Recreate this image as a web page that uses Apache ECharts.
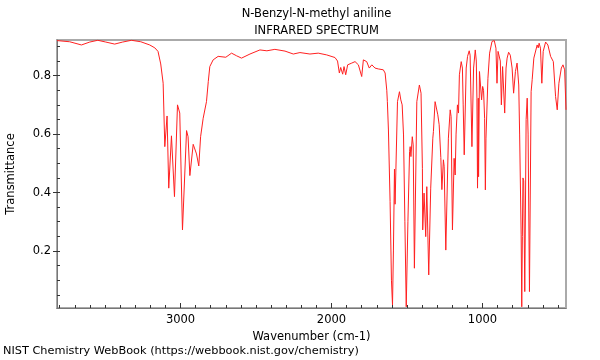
<!DOCTYPE html>
<html>
<head>
<meta charset="utf-8">
<script src="https://cdn.jsdelivr.net/npm/echarts@6/dist/echarts.min.js"></script>
<style>
html,body{margin:0;padding:0;background:#fff;}
#chart{width:600px;height:360px;}
</style>
</head>
<body>
<div id="chart"></div>
<script>
const titleLines = ["N-Benzyl-N-methyl aniline", "INFRARED SPECTRUM"];
const xAxisName = "Wavenumber (cm-1)";
const yAxisName = "Transmittance";
const footerText = "NIST Chemistry WebBook (https://webbook.nist.gov/chemistry)";
const xMajorTicks = [1000, 2000, 3000];
const xMinorTicks = [500,600,700,800,900,1000,1100,1200,1300,1400,1500,1600,1700,1800,1900,2000,2100,2200,2300,2400,2500,2600,2700,2800,2900,3000,3100,3200,3300,3400,3500,3600,3700,3800];
const yMajorTicks = [0.2, 0.4, 0.6, 0.8];
const yMinorTicks = [0.05,0.1,0.15,0.2,0.25,0.3,0.35,0.4,0.45,0.5,0.55,0.6,0.65,0.7,0.75,0.8,0.85,0.9];

const wavenumbers = [
3818,3734,3656,3601,3548,3495,3436,3383,3325,3263,3204,3170,3149,3131,3115,3104,3089,3078,3060,3040,
3020,3005,2987,2960,2950,2938,2916,2894,2879,2867,2850,2828,2816,2806,2784,2751,2700,2662,2629,2596,
2540,2474,2428,2375,2308,2253,2209,2143,2088,2032,1977,1960,1948,1939,1926,1917,1906,1893,1866,1844,
1822,1800,1789,1767,1750,1733,1712,1690,1657,1645,1634,1630,1623,1612,1603,1596,1590,1583,1579,1574,
1563,1550,1541,1532,1523,1514,1505,1494,1483,1479,1474,1465,1459,1451,1435,1418,1407,1398,1396,1387,
1376,1369,1356,1343,1329,1325,1314,1302,1296,1287,1276,1269,1259,1254,1243,1226,1214,1208,1199,1188,
1181,1175,1166,1159,1153,1141,1133,1128,1121,1108,1099,1088,1082,1070,1059,1048,1041,1037,1033,1028,
1026,1020,1013,1006,999,993,986,981,977,970,964,953,937,922,911,904,897,889,882,875,
867,860,853,844,837,827,816,804,794,782,771,760,754,744,740,736,732,727,720,711,
704,698,689,678,671,660,656,647,638,631,625,616,607,598,582,567,549,531,516,505,
494,478,467,456,447
];
const transmittance = [
0.920,0.916,0.905,0.915,0.921,0.915,0.908,0.915,0.921,0.916,0.905,0.895,0.883,0.840,0.774,0.557,0.662,0.415,0.594,0.386,
0.700,0.672,0.272,0.612,0.591,0.458,0.565,0.532,0.491,0.591,0.654,0.711,0.780,0.831,0.854,0.866,0.863,0.877,0.868,0.860,
0.874,0.888,0.885,0.890,0.884,0.874,0.879,0.874,0.877,0.871,0.862,0.850,0.809,0.828,0.805,0.831,0.803,0.837,0.843,0.848,
0.837,0.797,0.854,0.848,0.826,0.837,0.826,0.823,0.820,0.809,0.750,0.711,0.614,0.369,0.100,0.015,0.200,0.480,0.360,0.470,
0.711,0.745,0.717,0.700,0.597,0.300,0.009,0.300,0.540,0.557,0.523,0.591,0.563,0.141,0.711,0.768,0.740,0.483,0.272,0.398,
0.249,0.420,0.118,0.415,0.586,0.609,0.711,0.717,0.666,0.632,0.520,0.410,0.512,0.490,0.203,0.586,0.683,0.660,0.272,0.517,
0.460,0.600,0.700,0.672,0.803,0.848,0.826,0.700,0.529,0.826,0.866,0.885,0.870,0.557,0.826,0.888,0.850,0.723,0.415,0.723,
0.454,0.814,0.820,0.717,0.763,0.750,0.654,0.409,0.586,0.580,0.791,0.877,0.917,0.920,0.894,0.774,0.883,0.888,0.850,0.700,
0.831,0.837,0.672,0.826,0.860,0.880,0.870,0.826,0.740,0.814,0.843,0.768,0.597,0.255,0.009,0.250,0.450,0.440,0.061,0.650,
0.723,0.600,0.061,0.745,0.786,0.860,0.860,0.860,0.905,0.895,0.911,0.894,0.774,0.883,0.915,0.905,0.866,0.848,0.728,0.683,
0.774,0.826,0.837,0.820,0.683
];

const seriesData = wavenumbers.map((w, i) => [w, transmittance[i]]);
const X_MIN = 447, X_MAX = 3818, Y_MIN = 0.0048, Y_MAX = 0.922;
const FONT = "DejaVu Sans";
const FS = 11.5;

const chart = echarts.init(document.getElementById('chart'), null, {renderer: 'canvas'});
chart.setOption({
  animation: false,
  backgroundColor: '#fff',
  textStyle: {fontFamily: FONT},
  title: {
    text: titleLines.join('\n'),
    left: 311.5, top: 1, textAlign: 'center',
    textStyle: {fontFamily: FONT, fontSize: FS, fontWeight: 'normal', color: '#000', lineHeight: 17}
  },
  grid: {left: 57, right: 34, top: 40, bottom: 52, outerBoundsMode: 'none', containLabel: false,
         show: true, borderColor: '#aaa', borderWidth: 2, backgroundColor: 'transparent'},
  xAxis: [{
    type: 'value', inverse: true, min: X_MIN, max: X_MAX, position: 'bottom',
    name: xAxisName, nameLocation: 'middle', nameGap: 18,
    nameTextStyle: {fontFamily: FONT, fontSize: FS, color: '#000'},
    axisLine: {show: true, onZero: false, lineStyle: {color: '#777', width: 1}},
    axisTick: {show: true, inside: true, length: 5, customValues: xMajorTicks, lineStyle: {color: '#333'}},
    axisLabel: {show: true, customValues: xMajorTicks, margin: 6, fontFamily: FONT, fontSize: FS, color: '#000', formatter: v => String(v)},
    splitLine: {show: false}
  }, {
    type: 'value', inverse: true, min: X_MIN, max: X_MAX, position: 'bottom',
    axisLine: {show: false, onZero: false},
    axisTick: {show: true, inside: true, length: 3, customValues: xMinorTicks, lineStyle: {color: '#333'}},
    axisLabel: {show: false},
    splitLine: {show: false}
  }],
  yAxis: [{
    type: 'value', min: Y_MIN, max: Y_MAX, position: 'left',
    name: yAxisName, nameLocation: 'middle', nameGap: 40, nameRotate: 90,
    nameTextStyle: {fontFamily: FONT, fontSize: FS, color: '#000'},
    axisLine: {show: true, onZero: false, lineStyle: {color: '#777', width: 1}},
    axisTick: {show: true, inside: false, length: 4, customValues: yMajorTicks, lineStyle: {color: '#333'}},
    axisLabel: {show: true, customValues: yMajorTicks, margin: 6, fontFamily: FONT, fontSize: FS, color: '#000', formatter: v => v.toFixed(1)},
    splitLine: {show: false}
  }, {
    type: 'value', min: Y_MIN, max: Y_MAX, position: 'left',
    axisLine: {show: false, onZero: false},
    axisTick: {show: true, inside: true, length: 3, customValues: yMinorTicks, lineStyle: {color: '#333'}},
    axisLabel: {show: false},
    splitLine: {show: false}
  }],
  graphic: [{
    type: 'text', left: 3, top: 346,
    style: {text: footerText, font: '11.3px "DejaVu Sans"', fill: '#000'}
  }],
  series: [{
    type: 'line', xAxisIndex: 0, yAxisIndex: 0,
    data: seriesData, showSymbol: false, symbol: 'none',
    lineStyle: {color: '#ff2020', width: 1}, silent: true
  }]
});
</script>
</body>
</html>
